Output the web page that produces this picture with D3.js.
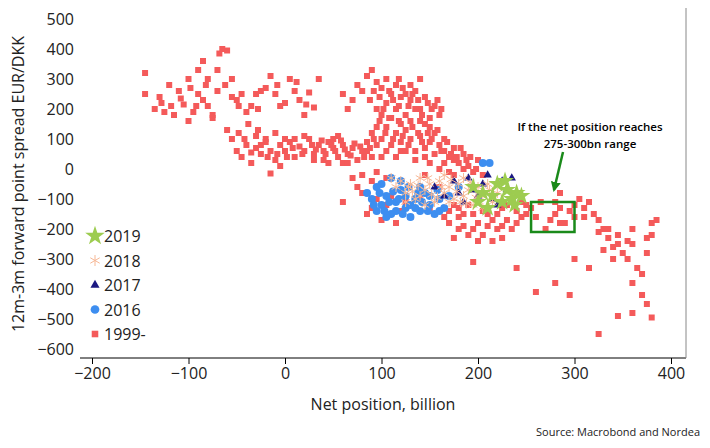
<!DOCTYPE html><html><head><meta charset="utf-8">
<script src="https://cdn.jsdelivr.net/npm/d3@7"></script>
<style>body{margin:0;background:#fff}text{font-family:"Open Sans",Roboto,sans-serif}</style></head><body>
<svg id="c" width="710" height="448"></svg>
<script>
const xTicks=[-200,-100,0,100,200,300,400];
const yTicks=[500,400,300,200,100,0,-100,-200,-300,-400,-500,-600];
const s1999=[[-145,320],[-145,250],[-135,200],[-130,240],[-125,190],[-120,280],[-115,180],[-110,260],[-105,215],[-100,300],[-100,160],[-95,190],[-90,250],[-85,230],[-80,210],[-75,180],[-70,260],[-70,330],[-68,385],[-65,400],[-60,395],[-55,300],[-55,240],[-50,230],[-45,250],[-40,190],[-35,210],[-30,250],[-25,260],[-20,270],[-15,310],[-10,250],[-5,210],[0,220],[5,300],[10,260],[15,230],[20,180],[25,255],[30,205],[35,300],[-85,360],[-80,300],[-90,330],[-75,170],[-60,130],[-55,100],[-50,60],[-45,40],[-40,80],[-35,20],[-30,70],[-25,50],[-20,90],[-15,60],[-10,30],[-5,80],[0,60],[5,90],[10,40],[15,75],[20,60],[25,100],[30,50],[35,80],[40,60],[45,90],[50,70],[55,40],[60,80],[65,50],[70,70],[75,30],[80,60],[85,90],[-20,100],[-15,-15],[-5,10],[-30,110],[-10,120],[10,100],[40,30],[50,100],[60,20],[90,40],
[-128,220],[-118,210],[-108,235],[-98,270],[-92,210],[-82,280],[-62,280],[-48,210],[-28,200],[-8,280],[12,290],[22,215],[-38,150],[-48,120],[-28,130],[-18,40],[-8,50],[2,40],[8,70],[18,50],[28,80],[32,65],[38,95],[42,50],[48,80],[52,60],[58,95],[62,65],[68,45],[72,85],[78,75],[82,40],[88,70],[92,100],[0,100],[20,110],[30,30],[55,110],[-25,80],[-35,55],[-42,100],[65,20],[45,20],
[60,250],[65,200],[70,230],[75,280],[80,260],[85,310],[90,330],[95,290],[100,270],[105,220],[110,250],[115,200],[120,240],[125,180],[130,230],[135,260],[140,200],[145,240],[150,170],[155,210],[160,180],[100,180],[95,140],[90,120],[100,100],[105,140],[110,80],[115,120],[120,90],[125,130],[130,100],[135,60],[140,110],[145,70],[150,90],[155,50],[160,80],[165,60],[170,40],[175,70],[180,20],[185,50],[190,10],[195,-10],[200,30],[205,-20],[150,140],[145,150],[130,160],[120,150],[110,170],[95,200],[105,300],[115,280],[125,250],[135,200],[140,160],[155,120],[165,100],[175,30],[85,60],[100,40],[120,60],[135,30],[150,20],[160,0],[170,-10],
[88,230],[92,260],[98,240],[102,200],[108,260],[112,230],[118,210],[122,270],[128,210],[132,250],[138,230],[142,180],[148,220],[152,200],[158,230],[162,200],[98,160],[104,120],[108,170],[112,100],[118,160],[122,110],[128,80],[132,140],[138,120],[142,90],[148,120],[152,100],[158,130],[162,60],[168,90],[172,50],[178,40],[182,70],[188,30],[192,40],[198,0],[95,80],[105,60],[115,40],[125,60],[145,40],[165,20],[185,0],[175,-20],[140,300],[130,280],[118,300],
[80,-80],[85,-150],[90,-130],[95,-100],[100,-170],[105,-120],[110,-90],[115,-180],[120,-140],[125,-110],[130,-160],[140,-90],[150,-130],[160,-100],[170,-140],[180,-160],[190,-120],[200,-180],[205,-220],[210,-150],[215,-240],[220,-200],[225,-130],[230,-170],[235,-110],[240,-140],[245,-160],[250,-120],[190,-220],[195,-310],[180,-200],[170,-180],[160,-60],[60,-110],[70,-30],[75,-60],[175,-230],[200,-240],[225,-190],[185,-190],
[80,-20],[90,-40],[95,-10],[105,-30],[145,-20],[155,-150],[165,-160],[175,-120],[185,-150],[195,-150],[205,-140],[210,-190],[195,-200],[215,-170],[220,-150],[225,-230],[230,-120],[240,-180],[245,-110],[250,-150],[235,-200],[180,-130],
[255,-130],[260,-160],[265,-110],[270,-200],[275,-170],[280,-150],[285,-130],[290,-180],[295,-140],[300,-120],[305,-100],[310,-130],[315,-110],[320,-150],[325,-170],[330,-200],[335,-230],[340,-260],[345,-220],[350,-280],[355,-300],[360,-250],[365,-330],[370,-350],[375,-280],[380,-180],[380,-220],[385,-170],[375,-230],[360,-200],[355,-240],[345,-250],[335,-200],[325,-210],[310,-160],[300,-160],[285,-180],[280,-110],[285,-80],[240,-330],[260,-410],[280,-380],[295,-420],[325,-550],[345,-490],[360,-480],[375,-450],[380,-495],[370,-420],[360,-380],[340,-300],[330,-270],[315,-330],[300,-300]];
const s2016=[[85,-80],[90,-100],[95,-60],[100,-120],[105,-90],[110,-150],[115,-110],[120,-70],[125,-130],[130,-160],[135,-100],[140,-140],[145,-80],[150,-120],[155,-150],[160,-100],[165,-130],[170,-90],[100,-50],[110,-30],[120,-40],[130,-120],[115,-140],[105,-160],[140,-60],[125,-90],[180,-60],[205,20],[212,20],[95,-140],[150,-90],[160,-140],[112,-75],[135,-130],[98,-80],[108,-110],[118,-100],[128,-60],[138,-80],[148,-140],[158,-70],[103,-140],[122,-150],[92,-120],[142,-110]];
const s2017=[[155,-60],[165,-90],[175,-40],[185,-110],[195,-70],[205,-50],[215,-100],[225,-40],[230,-70],[235,-30],[220,-120],[200,-90],[190,-30],[180,-80],[210,-20]];
const s2018=[[110,-30],[115,-60],[120,-40],[125,-80],[130,-50],[135,-100],[140,-30],[145,-70],[150,-50],[155,-110],[160,-40],[165,-80],[170,-60],[175,-100],[180,-50],[185,-90],[190,-70],[195,-120],[200,-60],[205,-90],[210,-50],[215,-110],[220,-80],[125,-110],[145,-120],[165,-20],[185,-30],[205,-130],[140,-90],[170,-110],[132,-75],[152,-85],[162,-60],[172,-35],[182,-110],[192,-45],[198,-95],[212,-70],[148,-30],[158,-95],[128,-60],[178,-75],[188,-115],[138,-55]];
const s2019=[[195,-60],[200,-110],[205,-80],[210,-130],[215,-90],[220,-50],[225,-110],[230,-70],[235,-100],[240,-80],[245,-90],[238,-120],[228,-40]];
const series=[
 {name:"1999-",data:s1999,color:"#f45a5a",sym:d3.symbolSquare,size:36},
 {name:"2016",data:s2016,color:"#3d8ef0",sym:d3.symbolCircle,size:50},
 {name:"2017",data:s2017,color:"#1b1882",sym:d3.symbolTriangle,size:30},
 {name:"2018",data:s2018,color:"#f7b896",sym:d3.symbolAsterisk,size:70},
 {name:"2019",data:s2019,color:"#9dcc50",sym:d3.symbolStar,size:100}];
const svg=d3.select("#c");
const x=d3.scaleLinear().domain([-200,400]).range([92,671]);
const y=d3.scaleLinear().domain([-600,500]).range([349,19]);
const ax=svg.append("g").attr("transform","translate(0,358)").call(d3.axisBottom(x).tickValues(xTicks).tickSize(6).tickSizeOuter(0));
ax.select(".domain").attr("d","M80,0H686");
ax.selectAll("text").attr("font-size",16).attr("fill","#222").attr("dy","0.75em");
const ay=svg.append("g").attr("transform","translate(80,0)").call(d3.axisLeft(y).tickValues(yTicks).tickSize(0));
ay.select(".domain").remove();
ay.selectAll("text").attr("font-size",16).attr("fill","#222").attr("x",-6);
svg.append("line").attr("x1",686).attr("x2",686).attr("y1",8).attr("y2",358).attr("stroke","#888");
series.forEach(s=>{
 svg.append("g").selectAll("path").data(s.data).join("path")
  .attr("transform",d=>`translate(${x(d[0])},${y(d[1])})`)
  .attr("d",d3.symbol(s.sym,s.size)).attr("fill",s.color).attr("stroke",s.sym===d3.symbolAsterisk?s.color:"none");
});
const lg=svg.append("g");
series.slice().reverse().forEach((s,i)=>{
 const yy=236+i*24.5;
 lg.append("path").attr("transform",`translate(95,${yy})`).attr("d",d3.symbol(s.sym,s.size*1.2)).attr("fill",s.color).attr("stroke",s.sym===d3.symbolAsterisk?s.color:"none");
 lg.append("text").attr("x",104).attr("y",yy+6).attr("font-size",16).attr("fill","#222").text(s.name);
});
svg.append("rect").attr("x",x(255)).attr("y",y(-110)).attr("width",x(300)-x(255)).attr("height",y(-210)-y(-110)).attr("fill","none").attr("stroke","#1a8a1a").attr("stroke-width",2.5);
svg.append("defs").append("marker").attr("id","ah").attr("viewBox","0 0 10 10").attr("refX",8).attr("refY",5).attr("markerWidth",4).attr("markerHeight",4).attr("orient","auto").append("path").attr("d","M0,0L10,5L0,10z").attr("fill","#1a8a1a");
svg.append("line").attr("x1",563).attr("y1",152).attr("x2",554).attr("y2",190).attr("stroke","#1a8a1a").attr("stroke-width",2.5).attr("marker-end","url(#ah)");
svg.append("text").attr("x",590).attr("y",131).attr("text-anchor","middle").attr("font-size",11.5).attr("font-weight",600).text("If the net position reaches");
svg.append("text").attr("x",590).attr("y",148).attr("text-anchor","middle").attr("font-size",11.5).attr("font-weight",600).text("275-300bn range");
svg.append("text").attr("transform","translate(24,184) rotate(-90)").attr("text-anchor","middle").attr("font-size",16).attr("fill","#222").text("12m-3m forward point spread EUR/DKK");
svg.append("text").attr("x",383).attr("y",410).attr("text-anchor","middle").attr("font-size",16).attr("fill","#222").text("Net position, billion");
svg.append("text").attr("x",700).attr("y",436).attr("text-anchor","end").attr("font-size",11).attr("fill","#222").text("Source: Macrobond and Nordea");
</script></body></html>
